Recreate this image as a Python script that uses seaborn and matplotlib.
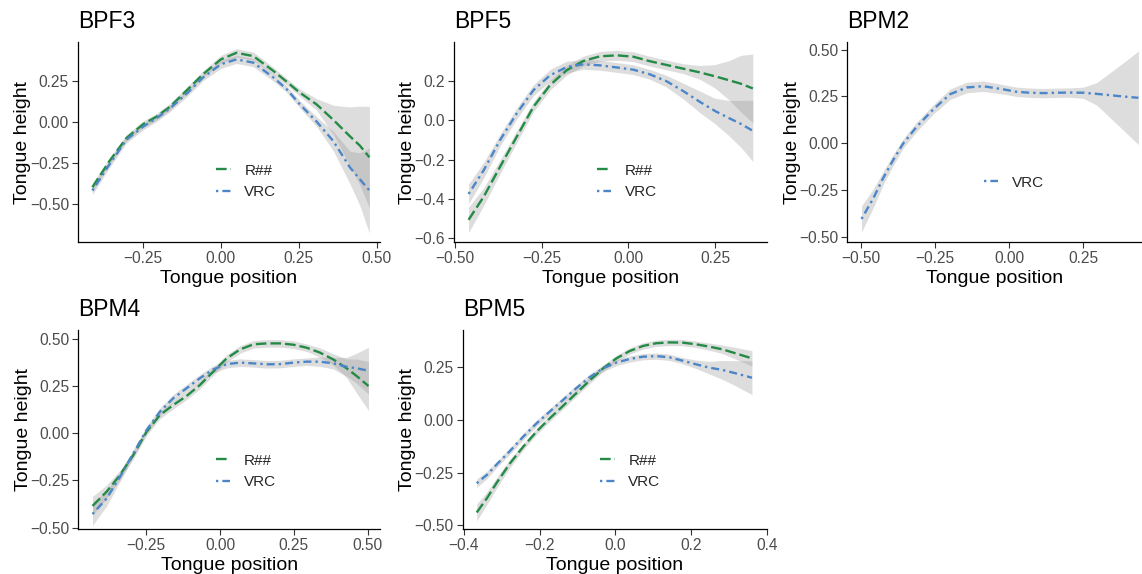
import numpy as np
import pandas as pd
import matplotlib
matplotlib.use("Agg")
import matplotlib.pyplot as plt
import seaborn as sns
from matplotlib.lines import Line2D
from matplotlib.ticker import FuncFormatter

# ---------------- data ----------------
groups = ["R##", "VRC"]

bpf3_x = [-0.412, -0.357, -0.303, -0.249, -0.207, -0.164, -0.110, -0.057, 0.0, 0.050,
          0.104, 0.168, 0.210, 0.251, 0.307, 0.361, 0.414, 0.445, 0.476]
bpf3_r = [-0.40, -0.24, -0.10, -0.015, 0.03, 0.09, 0.19, 0.29, 0.38, 0.42,
          0.40, 0.31, 0.245, 0.18, 0.105, 0.01, -0.09, -0.145, -0.217]
bpf3_r_hw = [0.025, 0.02, 0.02, 0.02, 0.02, 0.02, 0.02, 0.02, 0.025, 0.025,
             0.025, 0.022, 0.02, 0.022, 0.035, 0.09, 0.18, 0.24, 0.31]
bpf3_v = [-0.42, -0.26, -0.11, -0.03, 0.02, 0.08, 0.17, 0.27, 0.35, 0.38,
          0.36, 0.27, 0.20, 0.11, 0.0, -0.12, -0.28, -0.35, -0.42]
bpf3_v_hw = [0.025, 0.02, 0.02, 0.02, 0.02, 0.02, 0.02, 0.02, 0.025, 0.025,
             0.025, 0.022, 0.02, 0.022, 0.03, 0.06, 0.10, 0.16, 0.26]

bpf5_x = [-0.461, -0.417, -0.370, -0.322, -0.274, -0.226, -0.178, -0.130, -0.082, -0.033,
          0.014, 0.062, 0.110, 0.158, 0.206, 0.250, 0.290, 0.325, 0.359]
bpf5_r = [-0.507, -0.388, -0.236, -0.083, 0.069, 0.18, 0.256, 0.303, 0.327, 0.332,
          0.325, 0.302, 0.283, 0.264, 0.245, 0.225, 0.205, 0.187, 0.163]
bpf5_r_hw = [0.065, 0.045, 0.035, 0.03, 0.025, 0.025, 0.025, 0.025, 0.025, 0.025,
             0.025, 0.025, 0.025, 0.025, 0.035, 0.06, 0.10, 0.145, 0.176]
bpf5_v = [-0.375, -0.253, -0.10, 0.036, 0.154, 0.23, 0.272, 0.286, 0.281, 0.27,
          0.259, 0.235, 0.20, 0.15, 0.095, 0.048, 0.012, -0.018, -0.053]
bpf5_v_hw = [0.05, 0.04, 0.03, 0.028, 0.028, 0.03, 0.03, 0.025, 0.025, 0.025,
             0.025, 0.025, 0.03, 0.04, 0.055, 0.065, 0.09, 0.12, 0.156]

bpm2_x = [-0.499, -0.459, -0.426, -0.392, -0.358, -0.313, -0.257, -0.200, -0.144, -0.088, -0.020,
          0.025, 0.070, 0.115, 0.160, 0.205, 0.250, 0.295, 0.340, 0.385, 0.436]
bpm2_v = [-0.404, -0.293, -0.186, -0.089, 0.0, 0.088, 0.181, 0.262, 0.298, 0.305, 0.288,
          0.275, 0.27, 0.268, 0.27, 0.271, 0.27, 0.264, 0.257, 0.25, 0.243]
bpm2_v_hw = [0.07, 0.05, 0.035, 0.03, 0.025, 0.025, 0.025, 0.028, 0.028, 0.028, 0.025,
             0.025, 0.025, 0.025, 0.025, 0.025, 0.03, 0.06, 0.12, 0.18, 0.25]

bpm4_x = [-0.431, -0.383, -0.338, -0.293, -0.248, -0.203, -0.158, -0.113, -0.068, -0.023, 0.023,
          0.068, 0.113, 0.158, 0.203, 0.248, 0.293, 0.338, 0.383, 0.428, 0.462, 0.502]
bpm4_r = [-0.385, -0.309, -0.221, -0.115, 0.009, 0.097, 0.15, 0.198, 0.256, 0.327, 0.398,
          0.445, 0.472, 0.477, 0.477, 0.47, 0.454, 0.428, 0.392, 0.345, 0.304, 0.251]
bpm4_r_hw = [0.05, 0.035, 0.025, 0.02, 0.02, 0.02, 0.02, 0.02, 0.02, 0.02, 0.02,
             0.02, 0.02, 0.02, 0.02, 0.02, 0.02, 0.025, 0.03, 0.05, 0.09, 0.13]
bpm4_v = [-0.428, -0.345, -0.23, -0.106, 0.018, 0.115, 0.186, 0.239, 0.292, 0.339, 0.367,
          0.375, 0.371, 0.366, 0.367, 0.375, 0.38, 0.38, 0.371, 0.353, 0.345, 0.332]
bpm4_v_hw = [0.06, 0.04, 0.025, 0.02, 0.02, 0.02, 0.02, 0.02, 0.02, 0.02, 0.02,
             0.02, 0.02, 0.02, 0.02, 0.02, 0.02, 0.025, 0.03, 0.05, 0.08, 0.124]

bpm5_x = [-0.366, -0.339, -0.313, -0.278, -0.243, -0.208, -0.173, -0.138, -0.103, -0.068, -0.032,
          0.003, 0.038, 0.073, 0.108, 0.143, 0.178, 0.213, 0.248, 0.283, 0.318, 0.361]
bpm5_r = [-0.44, -0.372, -0.298, -0.206, -0.127, -0.055, 0.008, 0.067, 0.127, 0.187, 0.246,
          0.293, 0.328, 0.352, 0.365, 0.369, 0.368, 0.36, 0.349, 0.336, 0.317, 0.293]
bpm5_r_hw = [0.04, 0.03, 0.025, 0.02, 0.015, 0.015, 0.015, 0.015, 0.015, 0.015, 0.015,
             0.015, 0.015, 0.015, 0.015, 0.015, 0.015, 0.015, 0.017, 0.02, 0.028, 0.037]
bpm5_v = [-0.301, -0.261, -0.211, -0.147, -0.079, -0.016, 0.04, 0.095, 0.151, 0.203, 0.246,
          0.273, 0.29, 0.301, 0.304, 0.298, 0.282, 0.265, 0.249, 0.238, 0.222, 0.201]
bpm5_v_hw = [0.02, 0.018, 0.015, 0.015, 0.015, 0.015, 0.015, 0.015, 0.015, 0.015, 0.015,
             0.015, 0.015, 0.015, 0.015, 0.015, 0.015, 0.02, 0.03, 0.045, 0.06, 0.08]

# ---------------- style ----------------
sns.set_style("ticks")
plt.rcParams['font.family'] = ['Liberation Sans', 'DejaVu Sans']

GREEN = '#238B45'
BLUE = '#4A86C8'
palette = {'R##': GREEN, 'VRC': BLUE}
dashes = {'R##': (4.5, 1.7), 'VRC': (1.0, 1.7, 3.4, 1.7)}
LW = 1.7

def fmt(dec):
    return FuncFormatter(lambda v, p: f"{v:.{dec}f}".replace('-', '\u2212'))

W, H = 1142, 574
def rect(l, r, t, b):
    return [l / W, 1 - b / H, (r - l) / W, (b - t) / H]

panels = [
    dict(title='BPF3', x=bpf3_x,
         series={'R##': (bpf3_r, bpf3_r_hw), 'VRC': (bpf3_v, bpf3_v_hw)},
         rect=rect(78, 380, 42, 242), xlim=(-0.458, 0.51), ylim=(-0.734, 0.486),
         xticks=[-0.25, 0, 0.25, 0.5], yticks=[-0.5, -0.25, 0, 0.25], xd=2, yd=2,
         leg=(0.457, 0.3025)),
    dict(title='BPF5', x=bpf5_x,
         series={'R##': (bpf5_r, bpf5_r_hw), 'VRC': (bpf5_v, bpf5_v_hw)},
         rect=rect(454, 766.7, 42, 242), xlim=(-0.503, 0.399), ylim=(-0.62, 0.40),
         xticks=[-0.5, -0.25, 0, 0.25], yticks=[-0.6, -0.4, -0.2, 0, 0.2], xd=2, yd=1,
         leg=(0.457, 0.3025)),
    dict(title='BPM2', x=bpm2_x,
         series={'VRC': (bpm2_v, bpm2_v_hw)},
         rect=rect(847.3, 1141.7, 42, 242), xlim=(-0.547, 0.447), ylim=(-0.527, 0.541),
         xticks=[-0.5, -0.25, 0, 0.25], yticks=[-0.5, -0.25, 0, 0.25, 0.5], xd=2, yd=2,
         leg=(0.464, 0.296)),
    dict(title='BPM4', x=bpm4_x,
         series={'R##': (bpm4_r, bpm4_r_hw), 'VRC': (bpm4_v, bpm4_v_hw)},
         rect=rect(78.3, 380, 330, 529.3), xlim=(-0.479, 0.541), ylim=(-0.509, 0.548),
         xticks=[-0.25, 0, 0.25, 0.5], yticks=[-0.5, -0.25, 0, 0.25, 0.5], xd=2, yd=2,
         leg=(0.456, 0.29)),
    dict(title='BPM5', x=bpm5_x,
         series={'R##': (bpm5_r, bpm5_r_hw), 'VRC': (bpm5_v, bpm5_v_hw)},
         rect=rect(462.7, 766.7, 330, 529.3), xlim=(-0.403, 0.397), ylim=(-0.52, 0.428),
         xticks=[-0.4, -0.2, 0, 0.2, 0.4], yticks=[-0.5, -0.25, 0, 0.25], xd=1, yd=2,
         leg=(0.452, 0.29)),
]

fig = plt.figure(figsize=(W / 100, H / 100), dpi=100)

for p in panels:
    ax = fig.add_axes(p['rect'])
    x = np.asarray(p['x'])
    frames = []
    for name, (y, hw) in p['series'].items():
        y = np.asarray(y); hw = np.asarray(hw)
        ax.fill_between(x, y - hw, y + hw, color='#9a9a9a', alpha=0.33, lw=0, zorder=1)
        frames.append(pd.DataFrame({'pos': x, 'height': y, 'group': name}))
    df = pd.concat(frames, ignore_index=True)
    levels = list(p['series'].keys())
    sns.lineplot(data=df, x='pos', y='height', hue='group', style='group',
                 hue_order=levels, style_order=levels,
                 palette={k: palette[k] for k in levels},
                 dashes={k: dashes[k] for k in levels},
                 linewidth=LW, estimator=None, sort=True, legend=False, ax=ax, zorder=3)
    ax.set_xlim(*p['xlim']); ax.set_ylim(*p['ylim'])
    ax.set_xticks(p['xticks']); ax.set_yticks(p['yticks'])
    ax.xaxis.set_major_formatter(fmt(p['xd']))
    ax.yaxis.set_major_formatter(fmt(p['yd']))
    ax.tick_params(length=4, width=0.8, color='#333333', labelcolor='#4d4d4d',
                   labelsize=11.2, pad=2.5)
    for s in ['top', 'right']:
        ax.spines[s].set_visible(False)
    for s in ['left', 'bottom']:
        ax.spines[s].set_color('black'); ax.spines[s].set_linewidth(0.9)
    ax.set_xlabel('Tongue position', fontsize=14, labelpad=3, color='black')
    ax.set_ylabel('Tongue height', fontsize=14, labelpad=-1, color='black')
    ax.set_title(p['title'], loc='left', fontsize=16.5, pad=10, color='black')

    handles = [Line2D([0], [0], color=palette[k], lw=LW, dashes=dashes[k]) for k in levels]
    ax.legend(handles, levels, loc='center left', bbox_to_anchor=p['leg'], frameon=False,
              fontsize=11, handlelength=0.95, handletextpad=0.9, labelspacing=0.5,
              borderpad=0, borderaxespad=0)

fig.savefig('out.png', dpi=100)
